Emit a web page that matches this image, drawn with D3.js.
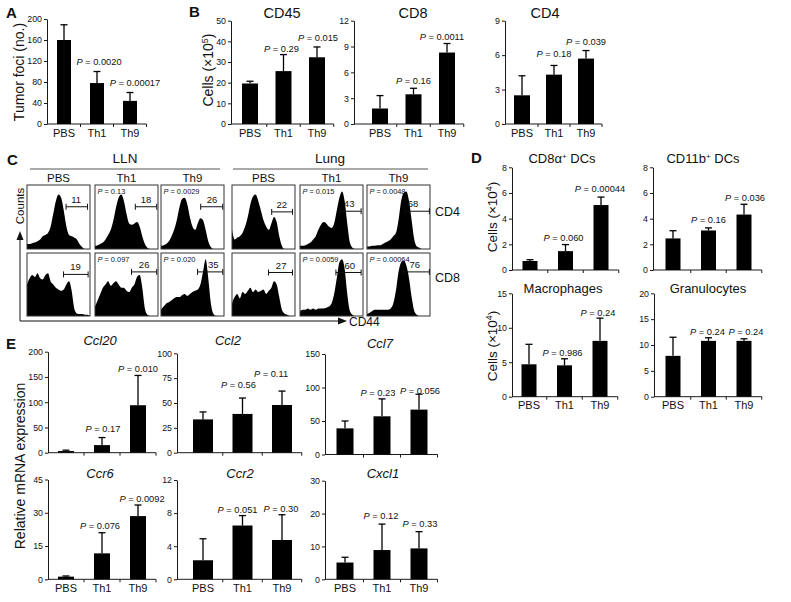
<!DOCTYPE html>
<html><head><meta charset="utf-8">
<script src="https://cdn.jsdelivr.net/npm/d3@7"></script>
<style>
body{margin:0;background:#fff}
svg{display:block}
text{font-family:"Liberation Sans",Arial,Helvetica,sans-serif;fill:#111}
</style>
</head><body>
<svg id="c" width="791" height="602"></svg>
<script>
// ---------------- DATA ----------------
const groups = ["PBS", "Th1", "Th9"];

// Panel A
const tumorFoci = [160, 78, 44];
const tumorFociErr = [189, 100, 60];
const tumorFociP = [null, "0.0020", "0.00017"];

// Panel B (cells x10^5)
const cd45 = [19.6, 25.6, 32.3];
const cd45Err = [20.7, 33.6, 37.3];
const cd45P = [null, "0.29", "0.015"];
const cd8 = [1.8, 3.45, 8.3];
const cd8Err = [3.3, 4.15, 9.35];
const cd8P = [null, "0.16", "0.0011"];
const cd4 = [2.5, 4.3, 5.7];
const cd4Err = [4.2, 5.1, 6.4];
const cd4P = [null, "0.18", "0.039"];

// Panel D (cells x10^4)
const cd8aDC = [0.7, 1.47, 5.06];
const cd8aDCErr = [0.8, 1.98, 5.68];
const cd8aDCP = [null, "0.060", "0.00044"];
const cd11bDC = [2.46, 3.08, 4.32];
const cd11bDCErr = [3.06, 3.28, 5.12];
const cd11bDCP = [null, "0.16", "0.036"];
const macrophages = [4.7, 4.55, 8.1];
const macrophagesErr = [7.6, 5.5, 11.4];
const macrophagesP = [null, "0.986", "0.24"];
const granulocytes = [7.9, 10.8, 10.8];
const granulocytesErr = [11.5, 11.4, 11.2];
const granulocytesP = [null, "0.24", "0.24"];

// Panel E (relative mRNA expression)
const ccl20 = [3.3, 15, 94];
const ccl20Err = [5, 30, 153];
const ccl20P = [null, "0.17", "0.010"];
const ccl2 = [33.5, 39, 48];
const ccl2Err = [41, 55, 62];
const ccl2P = [null, "0.56", "0.11"];
const ccl7 = [39, 57, 67];
const ccl7Err = [50, 83, 90];
const ccl7P = [null, "0.23", "0.056"];
const ccr6 = [1.2, 11.7, 28.5];
const ccr6Err = [1.5, 21, 33.5];
const ccr6P = [null, "0.076", "0.0092"];
const ccr2 = [2.3, 6.5, 4.75];
const ccr2Err = [4.9, 7.7, 7.8];
const ccr2P = [null, "0.051", "0.30"];
const cxcl1 = [5.1, 8.9, 9.4];
const cxcl1Err = [6.7, 16.8, 14.5];
const cxcl1P = [null, "0.12", "0.33"];

// Panel C: CD44 histograms (relative counts along CD44 axis), per column PBS/Th1/Th9
const histLLN_CD4 = [
  [0.08,0.08,0.09,0.10,0.12,0.15,0.20,0.22,0.25,0.35,0.55,0.75,0.85,0.80,0.60,0.35,0.22,0.20,0.18,0.15,0.08,0.03,0,0,0],
  [0.05,0.06,0.08,0.10,0.15,0.22,0.30,0.45,0.65,0.80,0.85,0.75,0.55,0.40,0.38,0.40,0.42,0.35,0.20,0.08,0.02,0,0,0,0],
  [0.05,0.06,0.08,0.12,0.20,0.30,0.45,0.65,0.78,0.80,0.70,0.50,0.35,0.30,0.40,0.48,0.45,0.30,0.12,0.03,0,0,0,0,0]
];
const histLLN_CD8 = [
  [0.50,0.60,0.65,0.62,0.68,0.60,0.58,0.65,0.68,0.55,0.50,0.45,0.42,0.40,0.42,0.50,0.55,0.40,0.12,0.04,0.03,0.03,0.02,0.02,0],
  [0.15,0.25,0.35,0.45,0.50,0.55,0.48,0.52,0.55,0.50,0.45,0.45,0.40,0.38,0.45,0.50,0.62,0.65,0.45,0.12,0.02,0,0,0,0],
  [0.10,0.15,0.20,0.22,0.25,0.28,0.30,0.30,0.33,0.35,0.32,0.35,0.38,0.40,0.42,0.50,0.70,0.90,0.60,0.20,0.03,0,0,0,0]
];
const histLung_CD4 = [
  [0.30,0.15,0.18,0.20,0.25,0.35,0.50,0.70,0.82,0.85,0.75,0.60,0.45,0.35,0.30,0.40,0.50,0.42,0.20,0.05,0,0,0,0,0],
  [0.05,0.05,0.06,0.08,0.10,0.15,0.20,0.30,0.38,0.42,0.40,0.35,0.33,0.40,0.60,0.80,0.90,0.75,0.40,0.10,0.02,0,0,0,0],
  [0.04,0.04,0.05,0.05,0.06,0.06,0.08,0.10,0.12,0.15,0.20,0.25,0.45,0.75,0.88,0.90,0.75,0.45,0.15,0.04,0.02,0,0,0,0]
];
const histLung_CD8 = [
  [0.20,0.30,0.35,0.28,0.38,0.35,0.40,0.45,0.38,0.42,0.38,0.40,0.42,0.35,0.40,0.45,0.55,0.50,0.30,0.10,0.04,0.02,0,0,0],
  [0.08,0.10,0.10,0.12,0.10,0.12,0.10,0.12,0.12,0.12,0.13,0.15,0.20,0.35,0.60,0.85,0.90,0.75,0.35,0.08,0.02,0,0,0,0],
  [0.03,0.05,0.08,0.10,0.10,0.10,0.10,0.10,0.10,0.12,0.20,0.40,0.70,0.85,0.88,0.80,0.60,0.30,0.08,0.02,0,0,0,0,0]
];
const gateLLN_CD4 = ["11", "18", "26"];
const gateLLN_CD8 = ["19", "26", "35"];
const gateLung_CD4 = ["22", "43", "68"];
const gateLung_CD8 = ["27", "60", "76"];
const pLLN_CD4 = [null, "0.13", "0.0029"];
const pLLN_CD8 = [null, "0.097", "0.020"];
const pLung_CD4 = [null, "0.015", "0.0048"];
const pLung_CD8 = [null, "0.0059", "0.00064"];

// ---------------- DRAWING ----------------
const svg = d3.select("#c");
const INK = "#1a1a1a";

function label(x, y, s, o = {}) {
  const t = svg.append("text").attr("x", x).attr("y", y).text(s)
    .attr("font-size", o.size || 12)
    .attr("text-anchor", o.anchor || "middle");
  if (o.weight) t.attr("font-weight", o.weight);
  if (o.italic) t.attr("font-style", "italic");
  if (o.rotate) t.attr("transform", `rotate(-90,${x},${y})`);
  return t;
}

function pText(g, x, y, p, size) {
  const t = g.append("text").attr("x", x).attr("y", y).attr("font-size", size).attr("text-anchor", "middle");
  t.append("tspan").attr("font-style", "italic").text("P");
  t.append("tspan").text(" = " + p);
  return t;
}

function barChart(cfg) {
  const g = svg.append("g");
  const y = d3.scaleLinear().domain([0, cfg.max]).range([cfg.y0, cfg.y1]);
  const start = cfg.c1 - cfg.step / 2;
  const x = d3.scaleBand().domain(groups).range([start, start + 3 * cfg.step]).padding(0);
  const cx = i => x(groups[i]) + x.bandwidth() / 2;

  const ya = g.append("g").attr("transform", `translate(${cfg.ax},0)`)
    .call(d3.axisLeft(y).tickValues(cfg.ticks).tickSize(3).tickSizeOuter(0).tickPadding(2));
  ya.select(".domain").attr("stroke", INK);
  ya.selectAll("line").attr("stroke", INK);
  ya.selectAll("text").attr("font-size", 8.8).attr("fill", "#222")
    .attr("font-family", '"Liberation Sans",Arial,sans-serif');

  g.append("line").attr("x1", cfg.ax).attr("x2", start + 3 * cfg.step)
    .attr("y1", cfg.y0).attr("y2", cfg.y0).attr("stroke", INK);
  groups.forEach(d => {
    const tx = x(d) + x.bandwidth();
    g.append("line").attr("x1", tx).attr("x2", tx).attr("y1", cfg.y0).attr("y2", cfg.y0 + 3).attr("stroke", INK);
  });
  if (cfg.showX) {
    const xa = g.append("g").attr("transform", `translate(0,${cfg.y0})`)
      .call(d3.axisBottom(x).tickSize(0).tickPadding(5));
    xa.select(".domain").remove();
    xa.selectAll("text").attr("font-size", 11).attr("fill", "#111")
      .attr("font-family", '"Liberation Sans",Arial,sans-serif');
  }

  g.selectAll("rect.bar").data(cfg.values).join("rect").attr("class", "bar")
    .attr("x", (d, i) => cx(i) - cfg.bw / 2).attr("width", cfg.bw)
    .attr("y", d => y(d)).attr("height", d => cfg.y0 - y(d)).attr("fill", "#000");
  cfg.errs.forEach((e, i) => {
    g.append("line").attr("x1", cx(i)).attr("x2", cx(i)).attr("y1", y(cfg.values[i])).attr("y2", y(e))
      .attr("stroke", "#000").attr("stroke-width", 1.3);
    g.append("line").attr("x1", cx(i) - 3.5).attr("x2", cx(i) + 3.5).attr("y1", y(e)).attr("y2", y(e))
      .attr("stroke", "#000").attr("stroke-width", 1.3);
  });
  cfg.ps.forEach((p, i) => {
    if (!p) return;
    pText(g, cx(i) + (cfg.pDx ? cfg.pDx[i] : 0), y(cfg.pY[i]), p, 9.3);
  });
  if (cfg.title) label(cfg.titleX, cfg.titleY, cfg.title, { size: cfg.titleSize || 13, italic: cfg.italic });
}

// Panel A
barChart({ ax: 47, c1: 64, step: 33, bw: 14, y0: 124, y1: 19, max: 200, ticks: [0,40,80,120,160,200],
  values: tumorFoci, errs: tumorFociErr, ps: tumorFociP, pY: [0, 113, 72], pDx: [0, 2, 5], showX: true });

// Panel B
barChart({ ax: 231, c1: 250, step: 33.5, bw: 16, y0: 124, y1: 20.7, max: 50, ticks: [0,10,20,30,40,50],
  values: cd45, errs: cd45Err, ps: cd45P, pY: [0, 35, 40], pDx: [0, -2, 1], showX: true,
  title: "CD45", titleX: 282, titleY: 18, titleSize: 14.5 });
barChart({ ax: 354, c1: 380, step: 33.5, bw: 16, y0: 124, y1: 20.7, max: 12, ticks: [0,3,6,9,12],
  values: cd8, errs: cd8Err, ps: cd8P, pY: [0, 4.7, 9.8], pDx: [0, 0, -5], showX: true,
  title: "CD8", titleX: 413, titleY: 18, titleSize: 14.5 });
barChart({ ax: 505, c1: 522, step: 32, bw: 16, y0: 124, y1: 20.7, max: 9, ticks: [0,3,6,9],
  values: cd4, errs: cd4Err, ps: cd4P, pY: [0, 5.8, 6.9], pDx: [0, 0, 0], showX: true,
  title: "CD4", titleX: 545, titleY: 18, titleSize: 14.5 });

// Panel D
barChart({ ax: 512, c1: 530, step: 35.5, bw: 15, y0: 270, y1: 167.3, max: 8, ticks: [0,2,4,6,8],
  values: cd8aDC, errs: cd8aDCErr, ps: cd8aDCP, pY: [0, 2.25, 6.1], pDx: [0, -2, -1], showX: false });
barChart({ ax: 653, c1: 673, step: 35.5, bw: 15, y0: 270, y1: 167.3, max: 8, ticks: [0,2,4,6,8],
  values: cd11bDC, errs: cd11bDCErr, ps: cd11bDCP, pY: [0, 3.64, 5.4], pDx: [0, 0, 1], showX: false });
barChart({ ax: 512, c1: 529, step: 35.5, bw: 15, y0: 396.7, y1: 293.3, max: 15, ticks: [0,5,10,15],
  values: macrophages, errs: macrophagesErr, ps: macrophagesP, pY: [0, 5.9, 11.7], pDx: [0, -2, -2], showX: true,
  title: "Macrophages", titleX: 563, titleY: 293, titleSize: 13 });
barChart({ ax: 654, c1: 673, step: 35.5, bw: 15, y0: 396.7, y1: 293.3, max: 20, ticks: [0,5,10,15,20],
  values: granulocytes, errs: granulocytesErr, ps: granulocytesP, pY: [0, 11.9, 11.9], pDx: [0, -1, 2], showX: true,
  title: "Granulocytes", titleX: 708, titleY: 293, titleSize: 13 });

// Panel E
barChart({ ax: 48, c1: 66, step: 36, bw: 16, y0: 452.7, y1: 351.7, max: 200, ticks: [0,50,100,150,200],
  values: ccl20, errs: ccl20Err, ps: ccl20P, pY: [0, 41.6, 160], pDx: [0, 1, 0], showX: false,
  title: "Ccl20", titleX: 100, titleY: 345, titleSize: 13, italic: true });
barChart({ ax: 177, c1: 203, step: 39.5, bw: 20, y0: 452.7, y1: 353.3, max: 100, ticks: [0,25,50,75,100],
  values: ccl2, errs: ccl2Err, ps: ccl2P, pY: [0, 65, 76], pDx: [0, -4, -11], showX: false,
  title: "Ccl2", titleX: 228, titleY: 345, titleSize: 13, italic: true });
barChart({ ax: 325, c1: 345, step: 37, bw: 17, y0: 454.5, y1: 354, max: 150, ticks: [0,50,100,150],
  values: ccl7, errs: ccl7Err, ps: ccl7P, pY: [0, 88, 91], pDx: [0, -4, 1], showX: false,
  title: "Ccl7", titleX: 380, titleY: 348, titleSize: 13, italic: true });
barChart({ ax: 48, c1: 66, step: 36, bw: 16, y0: 579.3, y1: 479.5, max: 45, ticks: [0,15,30,45],
  values: ccr6, errs: ccr6Err, ps: ccr6P, pY: [0, 22.5, 35], pDx: [0, -2, 4], showX: true,
  title: "Ccr6", titleX: 100, titleY: 478, titleSize: 13, italic: true });
barChart({ ax: 177, c1: 203, step: 39.5, bw: 20, y0: 579.3, y1: 480, max: 12, ticks: [0,4,8,12],
  values: ccr2, errs: ccr2Err, ps: ccr2P, pY: [0, 8.0, 8.1], pDx: [0, -5, -1], showX: true,
  title: "Ccr2", titleX: 240, titleY: 478, titleSize: 13, italic: true });
barChart({ ax: 325, c1: 345, step: 37, bw: 17, y0: 579.3, y1: 480.7, max: 30, ticks: [0,10,20,30],
  values: cxcl1, errs: cxcl1Err, ps: cxcl1P, pY: [0, 18.3, 15.9], pDx: [0, -1, 1], showX: true,
  title: "Cxcl1", titleX: 383, titleY: 478, titleSize: 13, italic: true });

// Axis titles
label(24, 72, "Tumor foci (no.)", { size: 14, rotate: true });
const cellsB = label(213, 70, "Cells (\u00d710", { size: 14, rotate: true });
cellsB.append("tspan").attr("baseline-shift", "super").attr("font-size", 9).text("5");
cellsB.append("tspan").text(")");
[217, 346].forEach(cy => {
  const t = label(497, cy, "Cells (\u00d710", { size: 13.5, rotate: true });
  t.append("tspan").attr("baseline-shift", "super").attr("font-size", 9).text("4");
  t.append("tspan").text(")");
});
label(25, 466, "Relative mRNA expression", { size: 14, rotate: true });

const t1 = label(562, 163, "CD8\u03b1", { size: 13 });
t1.append("tspan").attr("baseline-shift", "super").attr("font-size", 8).text("+");
t1.append("tspan").text(" DCs");
const t2 = label(703, 163, "CD11b", { size: 13 });
t2.append("tspan").attr("baseline-shift", "super").attr("font-size", 8).text("+");
t2.append("tspan").text(" DCs");

[["A", 6, 18], ["B", 189, 17], ["C", 7, 165], ["D", 471, 163], ["E", 6, 349]].forEach(([s, x, y]) =>
  label(x, y, s, { size: 15, weight: 900, anchor: "start" }));

// ---------------- Panel C ----------------
const colX = { LLN: [27, 95, 161], Lung: [232, 300, 367] };
const rowY = [185, 253];
const rowH = [64, 63];
const boxW = 63;
const gateLayout = {
  "LLN-0":  [[0.62,0.96,0.34,0.78],[0.64,0.98,0.34,0.81],[0.63,0.98,0.34,0.81]],
  "LLN-1":  [[0.58,0.97,0.34,0.77],[0.58,0.98,0.30,0.78],[0.58,0.98,0.30,0.83]],
  "Lung-0": [[0.63,0.96,0.42,0.79],[0.63,0.97,0.41,0.78],[0.60,0.99,0.41,0.73]],
  "Lung-1": [[0.58,0.96,0.31,0.78],[0.57,0.97,0.31,0.79],[0.58,0.99,0.30,0.76]]
};
const histSets = [
  ["LLN", 0, histLLN_CD4, gateLLN_CD4, pLLN_CD4],
  ["LLN", 1, histLLN_CD8, gateLLN_CD8, pLLN_CD8],
  ["Lung", 0, histLung_CD4, gateLung_CD4, pLung_CD4],
  ["Lung", 1, histLung_CD8, gateLung_CD8, pLung_CD8]
];
histSets.forEach(([org, row, hists, gates, ps]) => {
  hists.forEach((h, col) => {
    const bx = colX[org][col], by = rowY[row], bh = rowH[row];
    const g = svg.append("g");
    const hx = d3.scaleLinear().domain([0, h.length - 1]).range([bx, bx + boxW]);
    const hy = d3.scaleLinear().domain([0, 1]).range([by + bh, by]);
    g.append("path").datum(h)
      .attr("d", d3.area().x((d, i) => hx(i)).y0(by + bh).y1(d => hy(d)).curve(d3.curveMonotoneX))
      .attr("fill", "#000");
    g.append("rect").attr("x", bx).attr("y", by).attr("width", boxW).attr("height", bh)
      .attr("fill", "none").attr("stroke", "#333").attr("stroke-width", 1);
    const [f0, f1, fy, fl] = gateLayout[org + "-" + row][col];
    const gy = by + fy * bh, gx0 = bx + f0 * boxW, gx1 = bx + f1 * boxW;
    g.append("line").attr("x1", gx0).attr("x2", gx1).attr("y1", gy).attr("y2", gy).attr("stroke", "#111");
    [gx0, gx1].forEach(xx => g.append("line").attr("x1", xx).attr("x2", xx).attr("y1", gy - 3).attr("y2", gy + 3).attr("stroke", "#111"));
    g.append("text").attr("x", bx + fl * boxW).attr("y", gy - 4).attr("text-anchor", "middle")
      .attr("font-size", 9.5).text(gates[col]);
    if (ps[col]) {
      const t = g.append("text").attr("x", bx + 2.5).attr("y", by + 8.5).attr("font-size", 7.4);
      t.append("tspan").attr("font-style", "italic").text("P");
      t.append("tspan").text(" = " + ps[col]);
    }
  });
});
label(125, 163, "LLN", { size: 13.5 });
label(330, 163, "Lung", { size: 13.5 });
svg.append("line").attr("x1", 30).attr("x2", 220).attr("y1", 169).attr("y2", 169).attr("stroke", "#555");
svg.append("line").attr("x1", 233).attr("x2", 428).attr("y1", 169).attr("y2", 169).attr("stroke", "#555");
groups.forEach((s, i) => {
  label(colX.LLN[i] + boxW / 2, 182, s, { size: 11.5 });
  label(colX.Lung[i] + boxW / 2, 182, s, { size: 11.5 });
});
label(435, 216, "CD4", { size: 12.5, anchor: "start" });
label(435, 282, "CD8", { size: 12.5, anchor: "start" });
svg.append("line").attr("x1", 20).attr("x2", 20).attr("y1", 321).attr("y2", 238).attr("stroke", "#111");
svg.append("path").attr("d", "M16.5,240 L20,231 L23.5,240 Z").attr("fill", "#111");
svg.append("line").attr("x1", 20).attr("x2", 340).attr("y1", 321).attr("y2", 321).attr("stroke", "#111");
svg.append("path").attr("d", "M338,317.5 L347,321 L338,324.5 Z").attr("fill", "#111");
label(24, 206, "Counts", { size: 11.5, rotate: true });
label(349, 326, "CD44", { size: 12, anchor: "start" });
</script>
</body></html>
